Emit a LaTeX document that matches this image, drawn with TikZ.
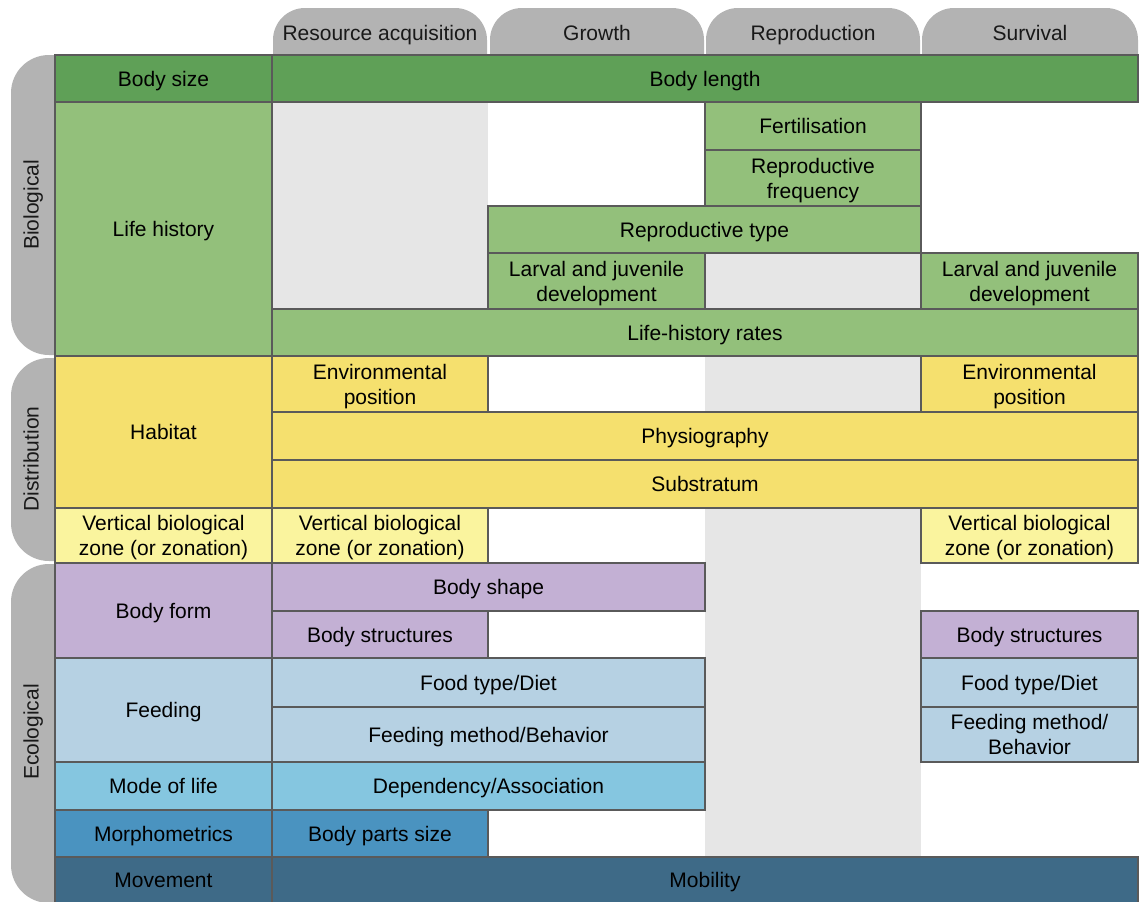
\documentclass[tikz,border=0pt]{standalone}
\usepackage{fontspec}
\setmainfont{Liberation Sans}
\definecolor{tabgrey}{HTML}{B3B3B3}
\definecolor{bggrey}{HTML}{E6E6E6}
\definecolor{dgreen}{HTML}{5FA057}
\definecolor{lgreen}{HTML}{93C07B}
\definecolor{yel}{HTML}{F5E06E}
\definecolor{lyel}{HTML}{FAF49E}
\definecolor{purp}{HTML}{C3B0D4}
\definecolor{lblue}{HTML}{B6D1E3}
\definecolor{cyanb}{HTML}{85C6E0}
\definecolor{mblue}{HTML}{4A93C0}
\definecolor{dblue}{HTML}{3E6A87}
\definecolor{edgecol}{HTML}{5A5A5A}
\newcommand\cellfont{\fontsize{21}{25}\selectfont}
\tikzset{
  cellbox/.style={draw=edgecol, line width=1.2pt, inner sep=0pt, align=center, font=\cellfont, text=black},
  oneline/.style={text height=15.2pt, text depth=0pt},
  twoline/.style={text height=40.2pt, text depth=0pt},
  tablabel/.style={font=\cellfont, text=black!90, inner sep=0pt, text height=15.2pt, text depth=0pt},
  tabfill/.style={fill=tabgrey},
  bgfill/.style={fill=bggrey}
}
\newcommand\mkcell[8]{\node[cellbox, #8, fill=#6, minimum width={(#4-#2)*1pt}, minimum height={(#5-#3)*1pt}] (#1) at ({(#2+#4)/2},{(#3+#5)/2}) {#7};}
\begin{document}
\begin{tikzpicture}[x=1pt,y=-1pt]
\useasboundingbox (0,0) rectangle (1143,902);
% grey background bands
\fill[bgfill] (272,102) rectangle (488,309);
\fill[bgfill] (705,253) rectangle (921,309);
\fill[bgfill] (705,356) rectangle (921,857);
% header tabs
\fill[tabfill, rounded corners=32pt] (273,8) rectangle (487,95);
\fill[tabfill, rounded corners=32pt] (490,8) rectangle (704,95);
\fill[tabfill, rounded corners=32pt] (706,8) rectangle (920,95);
\fill[tabfill, rounded corners=32pt] (922,8) rectangle (1138,95);
\node[tablabel] (hRes) at (380,33) {Resource acquisition};
\node[tablabel] (hGro) at (597,33) {Growth};
\node[tablabel] (hRep) at (813,33) {Reproduction};
\node[tablabel] (hSur) at (1030,33) {Survival};
% side tabs
\fill[tabfill, rounded corners=38pt] (11,55) rectangle (110,355);
\fill[tabfill, rounded corners=38pt] (11,358) rectangle (110,561);
\fill[tabfill, rounded corners=38pt] (11,564) rectangle (110,903);
\node[tablabel, rotate=90] (sBio) at (31,205) {Biological};
\node[tablabel, rotate=90] (sDis) at (31,459) {Distribution};
\node[tablabel, rotate=90] (sEco) at (31,732) {Ecological};
% row label column
\mkcell{bodysize}{55}{55}{272}{102}{dgreen}{Body size}{oneline}
\mkcell{lifehist}{55}{102}{272}{356}{lgreen}{Life history}{oneline}
\mkcell{habitat}{55}{356}{272}{508}{yel}{Habitat}{oneline}
\mkcell{vzone}{55}{508}{272}{563}{lyel}{Vertical biological\\zone (or zonation)}{twoline}
\mkcell{bodyform}{55}{563}{272}{658}{purp}{Body form}{oneline}
\mkcell{feeding}{55}{658}{272}{762}{lblue}{Feeding}{oneline}
\mkcell{modelife}{55}{762}{272}{810}{cyanb}{Mode of life}{oneline}
\mkcell{morpho}{55}{810}{272}{857}{mblue}{Morphometrics}{oneline}
\mkcell{movement}{55}{857}{272}{903}{dblue}{Movement}{oneline}
% biological
\mkcell{bodylength}{272}{55}{1138}{102}{dgreen}{Body length}{oneline}
\mkcell{fert}{705}{102}{921}{150}{lgreen}{Fertilisation}{oneline}
\mkcell{repfreq}{705}{150}{921}{206}{lgreen}{Reproductive\\frequency}{twoline}
\mkcell{reptype}{488}{206}{921}{253}{lgreen}{Reproductive type}{oneline}
\mkcell{larvalA}{488}{253}{705}{309}{lgreen}{Larval and juvenile\\development}{twoline}
\mkcell{larvalB}{921}{253}{1138}{309}{lgreen}{Larval and juvenile\\development}{twoline}
\mkcell{lhrates}{272}{309}{1138}{356}{lgreen}{Life-history rates}{oneline}
% distribution
\mkcell{envA}{272}{356}{488}{412}{yel}{Environmental\\position}{twoline}
\mkcell{envB}{921}{356}{1138}{412}{yel}{Environmental\\position}{twoline}
\mkcell{physio}{272}{412}{1138}{460}{yel}{Physiography}{oneline}
\mkcell{substr}{272}{460}{1138}{508}{yel}{Substratum}{oneline}
\mkcell{vzoneA}{272}{508}{488}{563}{lyel}{Vertical biological\\zone (or zonation)}{twoline}
\mkcell{vzoneB}{921}{508}{1138}{563}{lyel}{Vertical biological\\zone (or zonation)}{twoline}
% ecological
\mkcell{bshape}{272}{563}{705}{611}{purp}{Body shape}{oneline}
\mkcell{bstructA}{272}{611}{488}{658}{purp}{Body structures}{oneline}
\mkcell{bstructB}{921}{611}{1138}{658}{purp}{Body structures}{oneline}
\mkcell{foodA}{272}{658}{705}{707}{lblue}{Food type/Diet}{oneline}
\mkcell{foodB}{921}{658}{1138}{707}{lblue}{Food type/Diet}{oneline}
\mkcell{fmethA}{272}{707}{705}{762}{lblue}{Feeding method/Behavior}{oneline}
\mkcell{fmethB}{921}{707}{1138}{762}{lblue}{Feeding method/\\Behavior}{twoline}
\mkcell{depend}{272}{762}{705}{810}{cyanb}{Dependency/Association}{oneline}
\mkcell{bparts}{272}{810}{488}{857}{mblue}{Body parts size}{oneline}
\mkcell{mobility}{272}{857}{1138}{903}{dblue}{Mobility}{oneline}
\end{tikzpicture}
\end{document}
